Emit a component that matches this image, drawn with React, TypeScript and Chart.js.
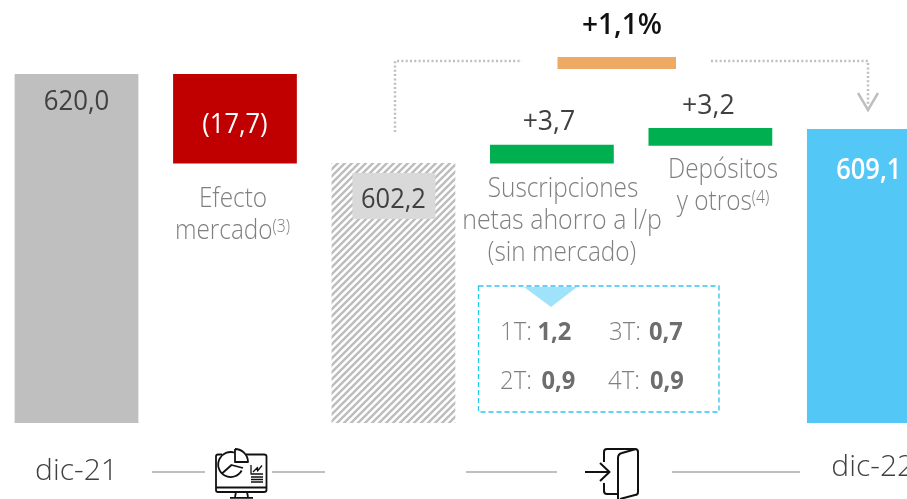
import React, { useEffect, useRef } from "react";
import { Chart, registerables } from "chart.js";

Chart.register(...registerables);

const categories = ["dic-21", "Efecto mercado", "Base", "Suscripciones netas", "Depósitos y otros", "dic-22"];
const tickLabels = [["", "dic-21"], "", "", "", "", " dic-22"];
const barLow = [550.9, 602.3, 550.9, 602.3, 605.8, 550.9];
const barHigh = [620.0, 620.0, 602.4, 606.0, 609.3, 609.1];
const valueLabels = ["620,0", "(17,7)", "602,2", "+3,7", "+3,2", "609,1"];
const totalChange = "+1,1%";
const quarterLabels = ["1T:", "2T:", "3T:", "4T:"];
const quarterValues = ["1,2", "0,9", "0,7", "0,9"];

const FONT = '"Open Sans", sans-serif';
const GREY = "#bfbfbf";

function hatchPattern(): CanvasPattern | string {
  const c = document.createElement("canvas");
  c.width = 7;
  c.height = 7;
  const g = c.getContext("2d")!;
  g.fillStyle = "#ffffff";
  g.fillRect(0, 0, 7, 7);
  g.strokeStyle = "#bdbdbd";
  g.lineWidth = 2.4;
  g.beginPath();
  g.moveTo(-3.5, 3.5);
  g.lineTo(3.5, -3.5);
  g.moveTo(0, 7);
  g.lineTo(7, 0);
  g.moveTo(3.5, 10.5);
  g.lineTo(10.5, 3.5);
  g.stroke();
  return g.createPattern(c, "repeat") ?? GREY;
}

function text(
  g: CanvasRenderingContext2D,
  s: string,
  x: number,
  y: number,
  font: string,
  color: string,
  align: CanvasTextAlign = "center",
  sx = 1
) {
  g.save();
  g.translate(x, y);
  g.scale(sx, 1);
  g.font = font;
  g.fillStyle = color;
  g.textAlign = align;
  g.textBaseline = "alphabetic";
  g.fillText(s, 0, 0);
  g.restore();
}

const LIGHT_SX = 0.87;
function withSup(g: CanvasRenderingContext2D, main: string, sup: string, cx: number, y: number) {
  const mf = `300 28px ${FONT}`;
  const sf = `300 18px ${FONT}`;
  g.font = mf;
  const w1 = g.measureText(main).width * LIGHT_SX;
  g.font = sf;
  const w2 = g.measureText(sup).width * LIGHT_SX;
  const left = cx - (w1 + w2) / 2;
  text(g, main, left, y, mf, "#7f7f7f", "left", LIGHT_SX);
  text(g, sup, left + w1, y - 7, sf, "#7f7f7f", "left", LIGHT_SX);
}

const overlay = {
  id: "overlay",
  afterDatasetsDraw(chart: any) {
    const g: CanvasRenderingContext2D = chart.ctx;
    const y = chart.scales.y;
    const bars = chart.getDatasetMeta(0).data;
    g.save();
    // canvas sits 3px left of the page
    const ox = 3;
    g.translate(ox, 0);

    // value labels, anchored on the bars (y is the text baseline)
    const bx = (i: number) => bars[i].x - ox;
    const top = (i: number) => y.getPixelForValue(barHigh[i]);
    const reg = `400 28px ${FONT}`;
    const semi = `600 28px ${FONT}`;
    text(g, valueLabels[0], bx(0), top(0) + 36, reg, "#404040", "center", 0.92);
    text(g, valueLabels[1], bx(1), top(1) + 59, reg, "#ffffff", "center", 0.91);
    g.fillStyle = "#d9d9d9";
    g.fillRect(bx(2) - 41, top(2) + 10, 83, 46);
    text(g, valueLabels[2], bx(2), top(2) + 45, reg, "#404040", "center", 0.91);
    text(g, valueLabels[3], bx(3) - 3, top(3) - 15, reg, "#404040", "center", 0.95);
    text(g, valueLabels[4], bx(4) - 2, top(4) - 14, reg, "#404040", "center", 0.95);
    text(g, valueLabels[5], bx(5), top(5) + 50, semi, "#ffffff", "center", 0.91);

    // descriptions
    const light = `300 28px ${FONT}`;
    text(g, "Efecto", 233, 207, light, "#7f7f7f", "center", LIGHT_SX);
    withSup(g, "mercado", "(3)", 232.5, 239);
    text(g, "Suscripciones", 563, 197, light, "#7f7f7f", "center", LIGHT_SX);
    text(g, "netas ahorro a l/p", 562, 229, light, "#7f7f7f", "center", 0.89);
    text(g, "(sin mercado)", 562, 261, light, "#7f7f7f", "center", LIGHT_SX);
    text(g, "Depósitos", 723, 178, light, "#7f7f7f", "center", LIGHT_SX);
    withSup(g, "y otros", "(4)", 723, 210);

    // bracket
    g.strokeStyle = GREY;
    g.lineWidth = 2.5;
    g.setLineDash([2, 2.3]);
    g.beginPath();
    g.moveTo(395, 132);
    g.lineTo(395, 61);
    g.lineTo(522, 61);
    g.moveTo(711, 61);
    g.lineTo(868, 61);
    g.lineTo(868, 106);
    g.stroke();
    g.setLineDash([]);
    g.lineWidth = 2.5;
    g.beginPath();
    g.moveTo(858, 93);
    g.lineTo(868, 110);
    g.lineTo(878, 93);
    g.stroke();
    g.fillStyle = "#eea964";
    g.fillRect(557.5, 57, 118.5, 12);
    text(g, totalChange, 622, 34, `600 28px ${FONT}`, "#111111");

    // dashed detail box
    g.fillStyle = "#9fe3fb";
    g.beginPath();
    g.moveTo(524, 287);
    g.lineTo(577, 287);
    g.lineTo(551, 307);
    g.closePath();
    g.fill();
    g.strokeStyle = "#2fc3f4";
    g.lineWidth = 1.3;
    g.setLineDash([5, 3]);
    g.strokeRect(478.5, 286, 240.5, 126);
    g.setLineDash([]);
    const qx = [500, 500, 609, 608];
    const qvx = [537.5, 541.5, 649, 650];
    const qy = [340, 389, 340, 389];
    quarterLabels.forEach((q, i) => {
      text(g, q, qx[i], qy[i], `300 25.5px ${FONT}`, "#7f7f7f", "left", 0.94);
      text(g, quarterValues[i], qvx[i], qy[i], `700 25.5px ${FONT}`, "#6d6d6d", "left", 0.93);
    });

    // divider lines
    g.strokeStyle = GREY;
    g.lineWidth = 2;
    g.beginPath();
    for (const [a, b] of [[152, 205], [272, 325], [466, 557], [672, 800]]) {
      g.moveTo(a, 472);
      g.lineTo(b, 472);
    }
    g.stroke();

    // monitor icon
    g.strokeStyle = "#111111";
    g.lineWidth = 1.8;
    g.lineJoin = "round";
    g.beginPath();
    g.moveTo(222, 454.5);
    g.lineTo(218, 454.5);
    g.quadraticCurveTo(216, 454.5, 216, 456.5);
    g.lineTo(216, 490);
    g.quadraticCurveTo(216, 492, 218, 492);
    g.lineTo(264, 492);
    g.quadraticCurveTo(266.5, 492, 266.5, 490);
    g.lineTo(266.5, 456.5);
    g.quadraticCurveTo(266.5, 454.5, 264, 454.5);
    g.lineTo(246, 454.5);
    g.moveTo(216, 487.5);
    g.lineTo(266.5, 487.5);
    g.moveTo(236, 492);
    g.lineTo(235, 497);
    g.moveTo(247, 492);
    g.lineTo(248, 497);
    g.moveTo(230, 497.8);
    g.lineTo(253, 497.8);
    g.stroke();
    g.beginPath();
    // pie: open circle with two radii
    g.arc(230.7, 464.5, 12.5, Math.PI * 0.16, -Math.PI * 0.41, false);
    g.moveTo(222, 473.5);
    g.lineTo(231.5, 465);
    g.lineTo(243, 468);
    // detached quarter slice
    g.moveTo(235, 449);
    g.lineTo(235, 462);
    g.lineTo(248, 462);
    g.arc(235, 462, 13, 0, -Math.PI / 2, true);
    g.stroke();
    g.lineWidth = 1.3;
    g.beginPath();
    g.moveTo(251, 465);
    g.lineTo(251, 474);
    g.lineTo(263, 474);
    g.moveTo(253, 472);
    g.lineTo(257.5, 467.5);
    g.lineTo(257.5, 471);
    g.lineTo(262, 465.5);
    for (const ly of [477, 479.5, 482]) {
      g.moveTo(251, ly);
      g.lineTo(263, ly);
    }
    g.stroke();

    // door icon
    g.lineWidth = 2;
    g.beginPath();
    g.moveTo(604, 462);
    g.lineTo(604, 452);
    g.quadraticCurveTo(604, 449, 607, 449);
    g.lineTo(635, 449);
    g.quadraticCurveTo(638, 449, 638, 452);
    g.lineTo(638, 492);
    g.quadraticCurveTo(638, 495, 635, 495);
    g.lineTo(620, 499);
    g.moveTo(636, 449);
    g.lineTo(622, 453);
    g.quadraticCurveTo(618, 454, 618, 458);
    g.lineTo(618, 499);
    g.moveTo(604, 483);
    g.lineTo(604, 491);
    g.quadraticCurveTo(604, 494, 607, 494);
    g.lineTo(618, 494);
    g.moveTo(585, 472);
    g.lineTo(609, 472);
    g.moveTo(600, 463);
    g.lineTo(609.5, 472);
    g.lineTo(600, 481);
    g.stroke();
    g.restore();
  },
};

export default function App() {
  const ref = useRef<HTMLCanvasElement>(null);
  useEffect(() => {
    const chart = new Chart(ref.current!, {
      type: "bar",
      data: {
        labels: categories,
        datasets: [
          {
            data: barHigh.map((h, i) => [barLow[i], h]) as any,
            backgroundColor: [GREY, "#c00000", hatchPattern(), "#00b050", "#00b050", "#53c8f6"] as any,
            barPercentage: 0.781,
            categoryPercentage: 1,
            borderSkipped: false,
            borderWidth: 0,
          },
        ],
      },
      options: {
        responsive: false,
        animation: false,
        layout: { padding: { left: 0.27, right: 8.93, top: 0, bottom: 0 } },
        plugins: { legend: { display: false }, tooltip: { enabled: false } },
        scales: {
          x: {
            grid: { display: false },
            border: { display: false },
            afterFit: (s: any) => {
              s.height = 76;
            },
            ticks: {
              autoSkip: false,
              maxRotation: 0,
              padding: 18,
              color: "#404040",
              font: (ctx: any) => ({ family: FONT, size: 30, weight: 300, lineHeight: ctx.index === 0 ? "15.3px" : 1.2 }),
              callback: (_v: any, i: number) => tickLabels[i],
            },
          },
          y: { display: false, min: 550.9, max: 634.66 },
        },
      },
      plugins: [overlay],
    } as any);
    return () => chart.destroy();
  }, []);
  return (
    <div style={{ position: "fixed", inset: 0, overflow: "hidden", background: "#fff" }}>
      <canvas ref={ref} width={960} height={499} style={{ position: "absolute", left: -3, top: 0 }} />
    </div>
  );
}
